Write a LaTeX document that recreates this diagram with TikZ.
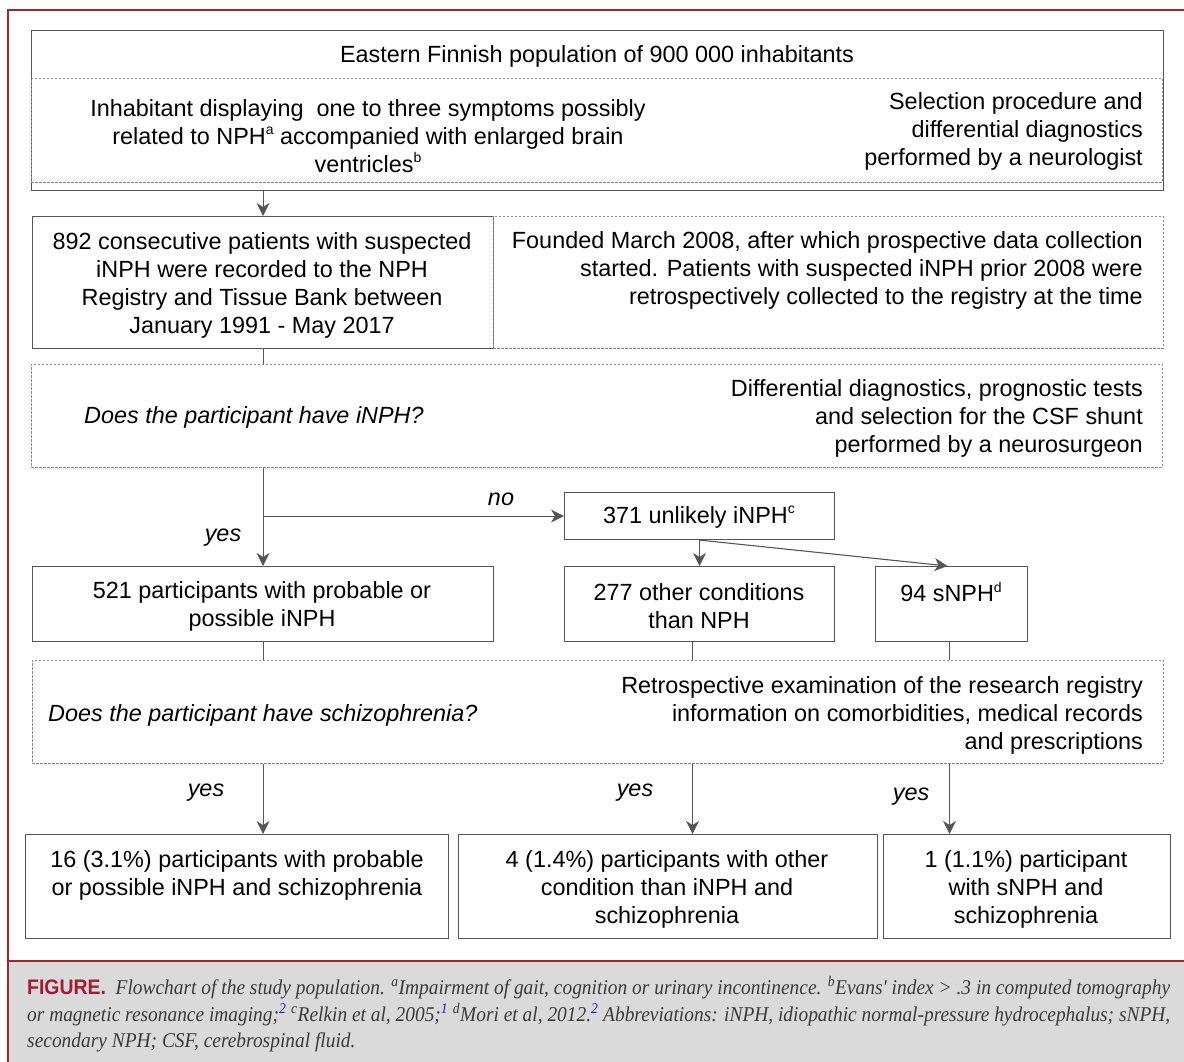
\documentclass[tikz,border=0pt]{standalone}
\usepackage{fontspec}
\usepackage{graphicx}
\setmainfont{Liberation Sans}
\newfontfamily\capserif{Liberation Serif}
\newfontfamily\figfont{Liberation Sans}
\usetikzlibrary{arrows.meta}
\definecolor{frame}{HTML}{A3262B}
\definecolor{capbg}{HTML}{DADADA}
\definecolor{boxline}{HTML}{555555}
\definecolor{dashline}{HTML}{8A8A8A}
\definecolor{figred}{HTML}{A6192E}
\definecolor{captext}{HTML}{3A3A3A}
\definecolor{reflink}{HTML}{1A1AE6}
\newcommand\mainsz{\fontsize{23.4}{28}\selectfont}
\newcommand\supx[1]{\raisebox{0.42em}{\fontsize{14}{14}\selectfont #1}}
\newcommand\capfmt{\fontsize{21}{27}\selectfont\capserif\itshape\color{captext}}
\newcommand\capone{{\figfont\upshape\bfseries\color{figred}FIGURE.}\enspace Flowchart of the study population. \textsuperscript{a}Impairment of gait, cognition or urinary incontinence. \textsuperscript{b}Evans' index > .3 in computed tomography}
\newcommand\captwo{or magnetic resonance imaging;\textsuperscript{\color{reflink}2} \textsuperscript{c}Relkin et al, 2005;\textsuperscript{\color{reflink}1} \textsuperscript{d}Mori et al, 2012.\textsuperscript{\color{reflink}2} Abbreviations: iNPH, idiopathic normal-pressure hydrocephalus; sNPH,}
\newcommand\capthree{secondary NPH; CSF, cerebrospinal fluid.}
\newsavebox\capboxa
\newsavebox\capboxb
\newsavebox\capboxc
\begin{document}
\sbox\capboxa{\capfmt\capone}%
\sbox\capboxb{\capfmt\captwo}%
\sbox\capboxc{\capfmt\capthree}%
\pgfmathsetmacro\capsa{1143/(\wd\capboxa)}%
\pgfmathsetmacro\capsb{1143/(\wd\capboxb)}%
\begin{tikzpicture}[x=1pt,y=-1pt,
  solidbox/.style={draw=boxline, line width=1.1pt, inner sep=0pt, anchor=north west, align=center, font=\mainsz},
  dashbox/.style={draw=dashline, line width=0.9pt, dash pattern=on 2.5pt off 1.5pt, inner sep=0pt, anchor=north west},
  txt/.style={inner sep=0pt, font=\mainsz, text=black},
  lbl/.style={inner sep=0pt, font=\mainsz\itshape, text=black},
  conn/.style={draw=boxline, line width=1.1pt},
  arr/.style={conn, -{Stealth[length=13pt,width=13pt,inset=4pt]}}]
\useasboundingbox (0,0) rectangle (1184,1062);
% frame and caption area
\fill[capbg] (9,962) rectangle (1184,1062);
\draw[frame, line width=2pt] (8,1062) -- (8,10) -- (1184,10);
\draw[frame, line width=1.5pt] (8,961) -- (1184,961);

% boxes
\node[solidbox, minimum width=1132pt, minimum height=160pt] (pop) at (31,30) {};
\node[dashbox, minimum width=1131pt, minimum height=104pt] (sel) at (31,78) {};
\node[solidbox, minimum width=461pt, minimum height=132pt] (reg) at (32,216) {};
\node[dashbox, minimum width=670pt, minimum height=132pt] (fnd) at (493,216) {};
\node[dashbox, minimum width=1131pt, minimum height=103pt] (q1) at (31,364) {};
\node[solidbox, minimum width=270pt, minimum height=47pt] (unl) at (564,492) {};
\node[solidbox, minimum width=461pt, minimum height=75pt] (prob) at (32,566) {};
\node[solidbox, minimum width=270pt, minimum height=75pt] (oth) at (564,566) {};
\node[solidbox, minimum width=152pt, minimum height=75pt] (snph) at (875,566) {};
\node[dashbox, minimum width=1131pt, minimum height=103pt] (q2) at (32,660) {};
\node[solidbox, minimum width=423pt, minimum height=104pt] (r1) at (25,834) {};
\node[solidbox, minimum width=419pt, minimum height=104pt] (r2) at (458,834) {};
\node[solidbox, minimum width=287pt, minimum height=104pt] (r3) at (883,834) {};

% texts
\node[txt] (tpop) at (597,56) {Eastern Finnish population of 900 000 inhabitants};
\node[txt, align=center] (tinh) at (368,136) {Inhabitant displaying\ \ one to three symptoms possibly\\related to NPH\supx{a} accompanied with enlarged brain\\ventricles\supx{b}};
\node[txt, align=right, anchor=east] (tsel) at (1143,131) {Selection procedure and\\differential diagnostics\\performed by a neurologist};
\node[txt, align=center] (treg) at (262,285) {892 consecutive patients with suspected\\iNPH were recorded to the NPH\\Registry and Tissue Bank between\\January 1991 - May 2017};
\node[txt, align=right, anchor=east] (tfnd) at (1143,270) {Founded March 2008, after which prospective data collection\\started. Patients with suspected iNPH prior 2008 were\\retrospectively collected to the registry at the time};
\node[lbl, anchor=west] (tq1) at (84,417) {Does the participant have iNPH?};
\node[txt, align=right, anchor=east] (tdif) at (1143,418) {Differential diagnostics, prognostic tests\\and selection for the CSF shunt\\performed by a neurosurgeon};
\node[txt] (tunl) at (699,517) {371 unlikely iNPH\supx{c}};
\node[txt, align=center] (tprob) at (262,606) {521 participants with probable or\\possible iNPH};
\node[txt, align=center] (toth) at (699,606) {277 other conditions\\than NPH};
\node[txt] (tsnph) at (951,592) {94 sNPH\supx{d}};
\node[lbl, anchor=west] (tq2) at (48,715) {Does the participant have schizophrenia?};
\node[txt, align=right, anchor=east] (tret) at (1143,715) {Retrospective examination of the research registry\\information on comorbidities, medical records\\and prescriptions};
\node[txt, align=center] (tr1) at (237,875) {16 (3.1\%) participants with probable\\or possible iNPH and schizophrenia};
\node[txt, align=center] (tr2) at (667,889) {4 (1.4\%) participants with other\\condition than iNPH and\\schizophrenia};
\node[txt, align=center] (tr3) at (1026,889) {1 (1.1\%) participant\\with sNPH and\\schizophrenia};

% connectors
\draw[arr] (reg.north |- pop.south) -- (reg.north);
\draw[conn] (reg.south) -- (reg.south |- q1.north);
\draw[arr] (prob.north |- q1.south) -- (prob.north);
\coordinate (brn) at (prob.north |- unl.west);
\draw[arr] (brn) -- (unl.west);
\draw[arr] (unl.south) -- (oth.north);
\draw[arr] (unl.south) -- ([xshift=-4pt]snph.north);
\draw[conn] (prob.south) -- (prob.south |- q2.north);
\coordinate (c277) at ([xshift=-7pt]oth.south);
\draw[conn] (c277) -- (c277 |- q2.north);
\coordinate (csn) at ([xshift=-2pt]snph.south);
\draw[conn] (csn) -- (csn |- q2.north);
\draw[arr] (prob.south |- q2.south) -- (prob.south |- r1.north);
\draw[arr] (c277 |- q2.south) -- (c277 |- r2.north);
\draw[arr] (csn |- q2.south) -- (csn |- r3.north);

% labels
\node[lbl] (lno) at (501,499) {no};
\node[lbl] (lyes0) at (223,538) {yes};
\node[lbl] (lyes1) at (206,793) {yes};
\node[lbl] (lyes2) at (635,793) {yes};
\node[lbl] (lyes3) at (911,797) {yes};

% caption
\node[inner sep=0pt, anchor=base west] (cap1) at (27,994) {\scalebox{\capsa}[1]{\usebox\capboxa}};
\node[inner sep=0pt, anchor=base west] (cap2) at (27,1021) {\scalebox{\capsb}[1]{\usebox\capboxb}};
\node[inner sep=0pt, anchor=base west] (cap3) at (27,1047) {\scalebox{\capsa}[1]{\usebox\capboxc}};
\end{tikzpicture}
\end{document}
